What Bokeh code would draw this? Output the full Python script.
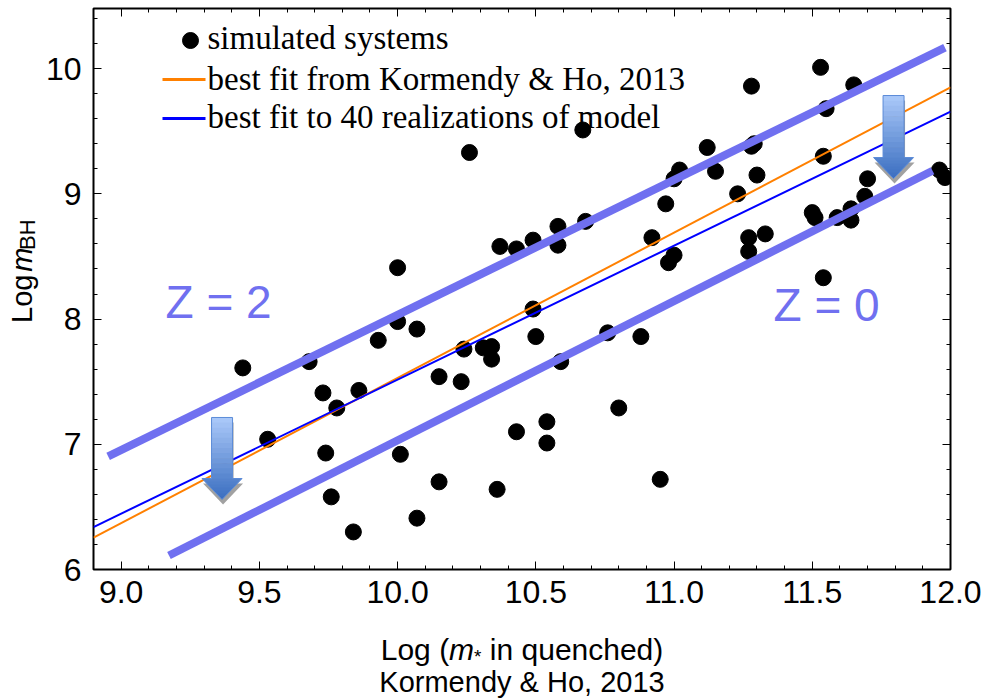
import numpy as np
from bokeh.plotting import figure
from bokeh.models import Range1d, LinearAxis, FixedTicker, Label, ColumnDataSource
from bokeh.core.properties import value
from bokeh.layouts import row, column
from bokeh.embed import file_html
from bokeh.resources import INLINE

# ---------------- data ----------------
sim_logmstar = [10.67, 10.26, 11.53, 11.65, 11.28, 11.55, 11.12, 11.28, 11.29, 11.02,
                11.00, 11.15, 11.30, 10.97, 11.23, 11.54, 10.92, 11.70, 11.69, 11.96,
                11.98, 11.50, 11.51, 11.59, 11.64, 11.64, 11.00, 10.98, 11.27, 11.33,
                11.27, 11.54, 10.88, 10.58, 10.58, 10.68, 10.49, 10.43, 10.37, 10.00,
                10.00, 10.07, 10.49, 10.50, 10.24, 10.31, 10.34, 10.34, 10.76, 10.59,
                10.15, 10.23, 10.80, 10.54, 10.43, 10.54, 10.01, 10.15, 10.36, 10.95,
                10.07, 9.44, 9.68, 9.93, 9.73, 9.86, 9.78, 9.53, 9.74, 9.76, 9.84]
sim_logmbh = [9.51, 9.33, 10.01, 9.87, 9.86, 9.68, 9.37, 9.38, 9.40, 9.19,
              9.12, 9.18, 9.15, 8.92, 9.00, 9.30, 8.65, 9.12, 8.98, 9.19,
              9.13, 8.85, 8.81, 8.81, 8.88, 8.79, 8.51, 8.45, 8.65, 8.68,
              8.54, 8.33, 7.86, 8.74, 8.59, 8.78, 8.63, 8.56, 8.58, 8.41,
              7.98, 7.92, 8.08, 7.86, 7.76, 7.77, 7.78, 7.68, 7.89, 7.66,
              7.54, 7.50, 7.29, 7.18, 7.10, 7.01, 6.92, 6.70, 6.64, 6.72,
              6.41, 7.61, 7.66, 7.83, 7.41, 7.43, 7.29, 7.04, 6.93, 6.58, 6.30]

# best-fit relations: log mBH = intercept + slope * (log m* - pivot)
fit_pivot = 11.0
kh_intercept, kh_slope = 8.69, 1.16          # Kormendy & Ho 2013
model_intercept, model_slope = 8.586, 1.07   # 40 realizations of model
fit_x = [8.9, 12.0]

# redshift envelope lines
z2_x = [8.953, 11.98]
z2_y = [6.904, 10.168]
z0_x = [9.173, 11.935]
z0_y = [6.112, 9.184]

# arrows (x centre, top, tip) in data units
arrow_x = [9.365, 11.794]
arrow_top = [7.214, 9.785]
arrow_tip = [6.559, 9.122]

x_ticks = [9.0, 9.5, 10.0, 10.5, 11.0, 11.5, 12.0]
x_tick_labels = ["9.0", "9.5", "10.0", "10.5", "11.0", "11.5", "12.0"]
y_ticks = [6, 7, 8, 9, 10]
y_tick_labels = ["6", "7", "8", "9", "10"]

legend_labels = ["simulated systems",
                 "best fit from Kormendy & Ho, 2013",
                 "best fit to 40 realizations of model"]

# ---------------- layout ----------------
W, H = 989, 700
YW = 40                      # strip holding the y title
FL, FR, FT = 93, 39, 8       # frame edges on the page
FW, FH = W - FL - FR, 561
PB = 50                      # space below frame for tick labels
PH = FT + FH + PB            # main figure height
XH = H - PH                  # strip holding the x title
FX0, FX1 = 8.9, 12.0
FY0, FY1 = 6.0, 10.48


def xd(px):
    return FX0 + (px - FL) / FW * (FX1 - FX0)


def yd(py):
    return FY1 - (py - FT) / FH * (FY1 - FY0)


def xp(x):
    return FL + (x - FX0) / (FX1 - FX0) * FW


def yp(y):
    return FT + (FY1 - y) / (FY1 - FY0) * FH


p = figure(width=W - YW, height=PH, output_backend="svg", toolbar_location=None,
           x_range=Range1d(FX0, FX1), y_range=Range1d(FY0, FY1),
           min_border_left=FL - YW, min_border_right=FR, min_border_top=FT,
           min_border_bottom=PB, x_axis_location=None, y_axis_location=None)
p.grid.visible = False
p.outline_line_color = "black"
p.outline_line_width = 2
p.background_fill_color = "white"
p.border_fill_color = "white"

x_minor = [round(v, 2) for v in np.arange(8.9, 12.01, 0.1)]
y_minor = [round(v, 2) for v in np.arange(6.0, 10.49, 0.2)]
TICK_FONT = "Liberation Sans"


def make_axis(kind, labels):
    ax = LinearAxis()
    if kind == "x":
        ax.ticker = FixedTicker(ticks=x_ticks, minor_ticks=x_minor)
        ax.major_label_standoff = 11
    else:
        ax.ticker = FixedTicker(ticks=y_ticks, minor_ticks=y_minor)
        ax.major_label_standoff = 12
    ax.axis_line_color = None
    ax.major_tick_in = 8
    ax.major_tick_out = 0
    ax.minor_tick_in = 4
    ax.minor_tick_out = 0
    ax.major_tick_line_color = "black"
    ax.minor_tick_line_color = "black"
    ax.major_tick_line_width = 1
    ax.minor_tick_line_width = 1
    ax.major_label_text_font = TICK_FONT
    if labels:
        if kind == "x":
            ax.major_label_overrides = {t: l for t, l in zip(x_ticks, x_tick_labels)}
        else:
            ax.major_label_overrides = {t: l for t, l in zip(y_ticks, y_tick_labels)}
        ax.major_label_text_font_size = "32px"
        ax.major_label_text_color = "black"
    else:
        ax.major_label_text_color = None
        ax.major_label_text_font_size = "1px"
        ax.major_label_standoff = 0
    return ax


p.add_layout(make_axis("x", True), "below")
p.add_layout(make_axis("y", True), "left")
p.add_layout(make_axis("x", False), "above")
p.add_layout(make_axis("y", False), "right")

# ---------------- marks ----------------
p.scatter(sim_logmstar, sim_logmbh, size=16, color="black")

kh_y = [kh_intercept + kh_slope * (x - fit_pivot) for x in fit_x]
model_y = [model_intercept + model_slope * (x - fit_pivot) for x in fit_x]
ORANGE = "#ff8000"
BLUE = "#0000ff"
p.line(fit_x, kh_y, line_color=ORANGE, line_width=2)
p.line(fit_x, model_y, line_color=BLUE, line_width=2)

PURPLE = "#7070f0"
p.line(z2_x, z2_y, line_color=PURPLE, line_width=8)
p.line(z0_x, z0_y, line_color=PURPLE, line_width=8)


# ---------------- arrows ----------------
def draw_arrow(xc, ytop, ytip, shaft_w=21, head_w=40, head_h=21):
    cx, top, tip = xp(xc), yp(ytop), yp(ytip)
    hs = tip - head_h
    outline = [(cx - shaft_w / 2, top), (cx + shaft_w / 2, top), (cx + shaft_w / 2, hs),
               (cx + head_w / 2, hs), (cx, tip), (cx - head_w / 2, hs), (cx - shaft_w / 2, hs)]
    off = 5
    p.patch([xd(a + 1) for a, b in outline], [yd(b + off) for a, b in outline],
            fill_color="#8a8a8a", fill_alpha=0.8, line_color=None)
    c0 = np.array([172, 202, 250])
    c1 = np.array([58, 110, 192])
    xs, ys, cols = [], [], []
    edges = list(np.linspace(top, hs, 13)) + list(np.linspace(hs, tip, 8))[1:]

    def hw(y):
        if y <= hs + 1e-9:
            return shaft_w / 2
        return head_w / 2 * (tip - y) / head_h

    for i in range(len(edges) - 1):
        ya, yb = edges[i], edges[i + 1]
        ybb = min(yb + 0.6, tip)
        if ya >= hs - 1e-9:
            wa, wb = head_w / 2 * (tip - ya) / head_h, hw(ybb)
        else:
            wa = wb = shaft_w / 2
        t = ((ya + yb) / 2 - top) / (tip - top)
        c = (c0 + (c1 - c0) * t).astype(int)
        cols.append("#%02x%02x%02x" % tuple(c))
        xs.append([xd(cx - wa), xd(cx + wa), xd(cx + wb), xd(cx - wb)])
        ys.append([yd(ya), yd(ya), yd(ybb), yd(ybb)])
    p.patches(xs, ys, fill_color=cols, line_color=None)
    p.patch([xd(a) for a, b in outline], [yd(b) for a, b in outline],
            fill_color=None, line_color="#5b8bd8", line_width=1)


for xc, yt, ytip in zip(arrow_x, arrow_top, arrow_tip):
    draw_arrow(xc, yt, ytip)

# ---------------- legend ----------------
p.scatter([xd(190)], [yd(40)], size=16, color="black")
p.line([xd(162), xd(205)], [yd(79), yd(79)], line_color=ORANGE, line_width=3)
p.line([xd(162), xd(205)], [yd(118), yd(118)], line_color=BLUE, line_width=3)
for lbl, py in zip(legend_labels, [37, 78, 116]):
    p.add_layout(Label(x=xd(207), y=yd(py), text=lbl, text_font="Liberation Serif",
                       text_font_size="33px", text_baseline="middle", text_color="black"))

# ---------------- Z labels ----------------
p.add_layout(Label(x=xd(165), y=yd(301.5), text="Z = 2", text_font="Liberation Sans",
                   text_font_size="46px", text_color=PURPLE, text_baseline="middle"))
p.add_layout(Label(x=xd(773), y=yd(304), text="Z = 0", text_font="Liberation Sans",
                   text_font_size="46px", text_color=PURPLE, text_baseline="middle"))

# ---------------- axis titles (composite rich text in side strips) ----------------
AW = {"L": 556, "o": 556, "g": 556, " ": 278, "(": 333, ")": 333, "m": 833, "*": 389,
      "i": 222, "n": 556, "q": 556, "u": 556, "e": 556, "c": 500, "h": 556, "d": 556,
      "B": 667, "H": 722}


def tw(s, size):
    return sum(AW[ch] for ch in s) * size / 1000.0


def strip(w, h):
    f = figure(width=w, height=h, output_backend="svg", toolbar_location=None,
               x_range=Range1d(0, w), y_range=Range1d(0, h),
               min_border=0, x_axis_location=None, y_axis_location=None)
    f.grid.visible = False
    f.outline_line_color = None
    f.background_fill_color = "white"
    f.border_fill_color = "white"
    return f


# x title strip: page x -> strip x identical, page y -> XH - (py - PH)
xfig = strip(W, XH)
FS1 = 30
FS2 = 29
SUB = 19
# (text, size, style, centre y on page, extra advance before the piece)
parts = [("Log (", FS1, "normal", 649, 0), ("m", FS1, "italic", 649, 0),
         ("*", SUB, "normal", 656, 0), ("in quenched)", FS1, "normal", 649, tw(" ", FS1))]
total = sum(tw(s, f) + pre for s, f, _, _, pre in parts)
x0 = FL + FW / 2 - total / 2
for s, f, st, cy, pre in parts:
    x0 += pre
    xfig.add_layout(Label(x=x0, y=XH - (cy - PH), text=s, text_font="Liberation Sans",
                          text_font_size=f"{f}px", text_font_style=st, text_color="black",
                          text_baseline="middle", text_align="left"))
    x0 += tw(s, f)
xfig.add_layout(Label(x=FL + FW / 2, y=XH - (681 - PH), text="Kormendy & Ho, 2013",
                      text_font="Liberation Sans", text_font_size=f"{FS2}px",
                      text_color="black", text_baseline="middle", text_align="center"))

# y title strip (rotated text glyphs, read bottom to top)
yfig = strip(YW, PH)
YFS = 29
ysub = 22
ypos = 347
for s, f, st, cx, pre in [("Log", YFS, "normal", 21.6, 0),
                          ("m", YFS, "italic", 21.6, tw(" ", YFS)),
                          ("BH", ysub, "normal", 27.0, 0)]:
    ypos -= pre
    src = ColumnDataSource(dict(x=[cx], y=[PH - ypos], t=[s]))
    yfig.text(x="x", y="y", text="t", source=src, angle=np.pi / 2,
              text_font=value("Liberation Sans"), text_font_size=value(f"{f}px"),
              text_font_style=st, text_color="black",
              text_baseline="middle", text_align="left")
    ypos -= tw(s, f)

layout = column(row(yfig, p), xfig)
open("out.html", "w").write(file_html(layout, INLINE))
